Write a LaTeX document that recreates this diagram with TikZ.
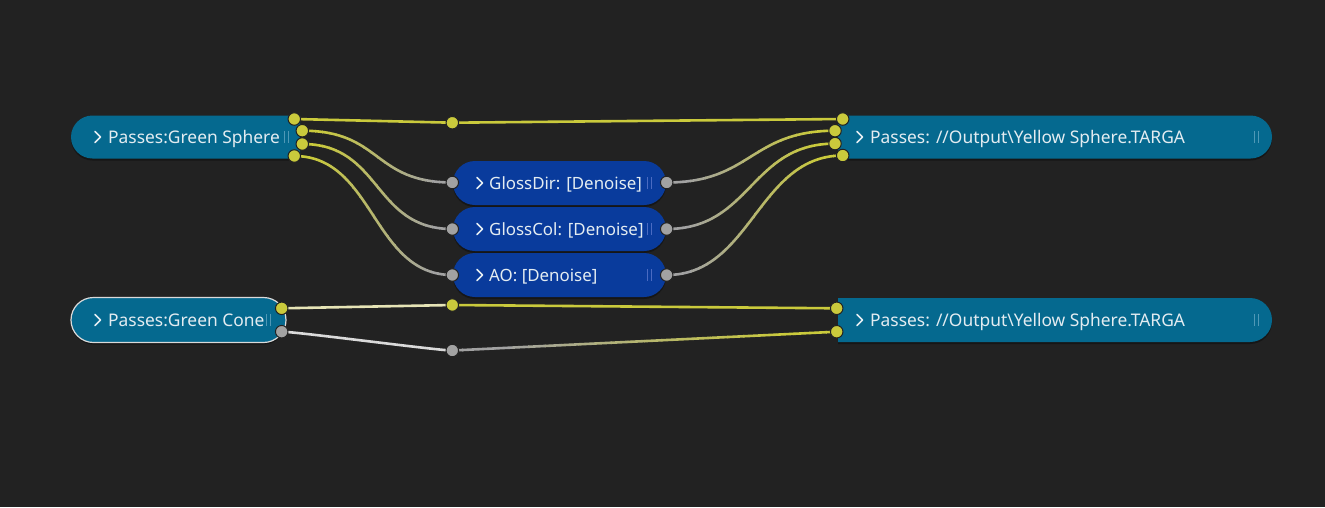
\documentclass[tikz,border=0pt]{standalone}
\usepackage{fontspec}
\setmainfont{Noto Sans}
\usetikzlibrary{shapes.misc,shadows}
\definecolor{bg}{HTML}{222222}
\definecolor{tealn}{HTML}{05698F}
\definecolor{dblue}{HTML}{093B9C}
\definecolor{ylw}{HTML}{CACA3C}
\definecolor{gry}{HTML}{A2A2A2}
\definecolor{txt}{HTML}{E3ECF1}
\definecolor{barT}{HTML}{4F98B6}
\definecolor{barB}{HTML}{4A6BC2}
\definecolor{cream}{HTML}{E6E4B6}
\definecolor{pale}{HTML}{DADADA}
% gradient wire: #1 src, #2 tgt, #3 control length, #4 start colour, #5 end colour, #6 x start, #7 x end
\newcommand\gradwire[7]{%
  \foreach \k in {0,...,23}{%
    \pgfmathsetmacro\pct{max(0,min(100,(1-(\k+0.5)/24)*140-20))}%
    \begin{scope}
      \clip ({#6+\k*(#7-#6)/24-0.3}, 0) rectangle ({#6+(\k+1)*(#7-#6)/24+0.3}, 507);
      \draw[wire, color=#4!\pct!#5] (#1) .. controls +(#3,0) and +(-#3,0) .. (#2);
    \end{scope}}}
\begin{document}
\begin{tikzpicture}[x=1pt,y=-1pt,
  capsule/.style={rounded rectangle, inner sep=0pt, draw=none,
     drop shadow={shadow xshift=0pt, shadow yshift=-2pt, opacity=0.35, fill=black}},
  tealnode/.style={capsule, fill=tealn, minimum height=43pt},
  bluenode/.style={capsule, fill=dblue, minimum height=44pt},
  port/.style={circle, draw=bg, line width=1pt, minimum size=12.5pt, inner sep=0pt},
  ypt/.style={port, fill=ylw},
  gpt/.style={port, fill=gry},
  wire/.style={line width=2.6pt},
  lbl/.style={anchor=base west, text=txt, font=\fontsize{17.4}{20}\selectfont, inner sep=0pt},
  mlbl/.style={lbl, font=\fontsize{16.9}{20}\selectfont},
  chev/.style={draw=txt, line width=1.5pt, line cap=round, line join=round},
  bar/.style={line width=1pt}
]
\fill[bg] (0,0) rectangle (1325,507);
\useasboundingbox (0,0) rectangle (1325,507);

% ---- node bodies
\node[tealnode, minimum width=229pt, rounded rectangle right arc=none] (A) at (185.5,137) {};
\node[tealnode, minimum width=434pt, rounded rectangle left arc=none] (B) at (1055,137) {};
\node[bluenode, minimum width=213pt] (G1) at (559.5,183) {};
\node[bluenode, minimum width=213pt] (G2) at (559.5,229) {};
\node[bluenode, minimum width=213pt] (G3) at (559.5,275) {};
\node[tealnode, minimum width=215pt, minimum height=45pt, draw=pale, line width=1.2pt] (C) at (178.5,320) {};
\node[tealnode, minimum width=434pt, minimum height=44pt, rounded rectangle left arc=none] (D) at (1055,320) {};

% ---- labels
\node[lbl] (At) at (108,143.3) {Passes:Green Sphere};
\node[lbl] (Bt) at (870,143.3) {Passes: //Output\textbackslash Yellow Sphere.TARGA};
\node[mlbl] (G1t) at (489,189.3) {GlossDir: [Denoise]};
\node[mlbl] (G2t) at (489,235.3) {GlossCol: [Denoise]};
\node[mlbl] (G3t) at (489,281.3) {AO: [Denoise]};
\node[lbl] (Ct) at (108,326.3) {Passes:Green Cone};
\node[lbl] (Dt) at (870,326.3) {Passes: //Output\textbackslash Yellow Sphere.TARGA};

% ---- chevrons
\foreach \x/\y in {95/137, 857/137, 477/183, 477/229, 477/275, 95/320, 857/320}
  \draw[chev] (\x,\y-5.5) -- (\x+5.5,\y) -- (\x,\y+5.5);

% ---- grip bars
\foreach \x/\y/\c in {284/137/barT, 1254/137/barT, 647/183/barB, 647/229/barB, 647/275/barB, 266/320/barT, 1254/320/barT}
  \draw[bar, draw=\c] (\x,\y-6) -- (\x,\y+6) (\x+4,\y-6) -- (\x+4,\y+6);

% ---- port positions
\path
  (294.3,119) coordinate (a1) (302.3,130.7) coordinate (a2) (302.3,144) coordinate (a3) (294.3,156) coordinate (a4)
  (842.7,119) coordinate (b1) (835,130.7) coordinate (b2) (835,143.6) coordinate (b3) (842.7,155.5) coordinate (b4)
  (452.3,182.5) coordinate (g1l) (452.3,229) coordinate (g2l) (452.3,275) coordinate (g3l)
  (666.7,182.5) coordinate (g1r) (666.7,229) coordinate (g2r) (666.7,275) coordinate (g3r)
  (452.3,122.7) coordinate (r1)
  (281.7,308.3) coordinate (c1) (281.7,331.7) coordinate (c2)
  (452.3,305) coordinate (r2) (452.3,350.5) coordinate (r3)
  (836.7,308.3) coordinate (d1) (836.7,331.7) coordinate (d2);

% ---- wires
\draw[wire, ylw] (a1) -- (r1) -- (b1);
\gradwire{a2}{g1l}{80}{ylw}{gry}{295}{460}
\gradwire{a3}{g2l}{80}{ylw}{gry}{295}{460}
\gradwire{a4}{g3l}{80}{ylw}{gry}{288}{460}
\gradwire{g1r}{b2}{85}{gry}{ylw}{660}{842}
\gradwire{g2r}{b3}{85}{gry}{ylw}{660}{842}
\gradwire{g3r}{b4}{85}{gry}{ylw}{660}{849}
\draw[wire, cream] (c1) -- (r2);
\draw[wire, ylw] (r2) -- (d1);
\draw[wire, pale] (c2) .. controls +(15,0) and +(-15,0) .. (r3);
\gradwire{r3}{d2}{0.01}{gry}{ylw}{446}{843}

% ---- port dots
\foreach \p in {a1,a2,a3,a4,b1,b2,b3,b4,r1,c1,r2,d1,d2}
  \node[ypt] at (\p) {};
\foreach \p in {g1l,g2l,g3l,g1r,g2r,g3r,c2,r3}
  \node[gpt] at (\p) {};
\end{tikzpicture}
\end{document}
